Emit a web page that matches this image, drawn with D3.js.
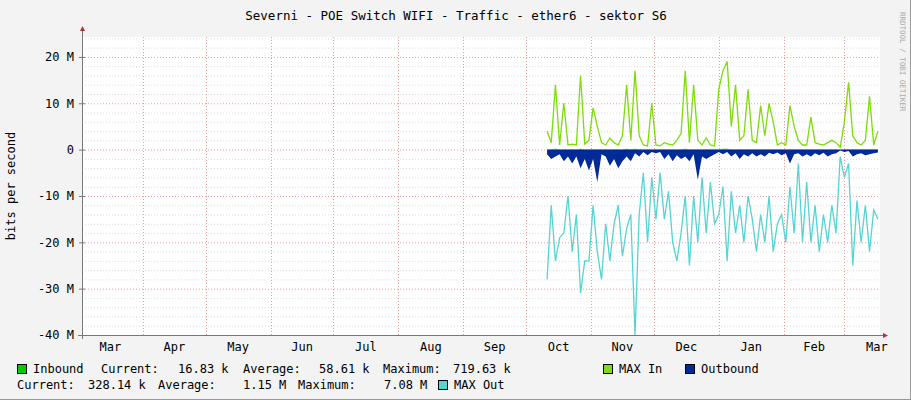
<!DOCTYPE html>
<html><head><meta charset="utf-8">
<script src="https://cdn.jsdelivr.net/npm/d3@7"></script>
<style>body{margin:0;background:#f3f3f3}text{font-family:"DejaVu Sans Mono",monospace;font-size:12px;fill:#000}</style>
</head><body><svg id="c" width="911" height="400"></svg>
<script>
const title = "Severni - POE Switch WIFI - Traffic - ether6 - sektor S6";
const yTicks = [20, 10, 0, -10, -20, -30, -40];
const monthLabels = ["Mar","Apr","May","Jun","Jul","Aug","Sep","Oct","Nov","Dec","Jan","Feb","Mar"];
const startDate = "2023-10-11"; // first sample, 2-day step
const stepDays = 2;
const maxIn = [4,1.5,14,1,10,1,1.2,1,16,1.2,2,9,5,1.5,1,2.5,1.5,1,3,14,2,17,3,1,0.8,10,1,0.8,1.5,1.2,1,2,3.5,17,1.5,14,2,1,2.5,1,0.8,13,17,19,5,14,2,3,13,2,1.5,9.5,3,10,6,1,1.5,1,9.5,5,2,1,1,7,1.5,1.2,1,1.5,2,1.5,0.5,6,14.5,3,1.5,1,2,11.5,1,4];
const inbound = [0.1,0.1,0.2,0.1,0.1,0.1,0.1,0.1,0.2,0.1,0.1,0.1,0.1,0.1,0.1,0.1,0.1,0.1,0.1,0.2,0.1,0.2,0.1,0.1,0.1,0.1,0.1,0.1,0.1,0.1,0.1,0.1,0.1,0.2,0.1,0.1,0.1,0.1,0.1,0.1,0.1,0.1,0.2,0.2,0.1,0.1,0.1,0.1,0.1,0.1,0.1,0.1,0.1,0.1,0.1,0.1,0.1,0.1,0.1,0.1,0.1,0.1,0.1,0.1,0.1,0.1,0.1,0.1,0.1,0.1,0.05,0.1,0.1,0.1,0.1,0.1,0.1,0.1,0.1,0.1];
const outbound = [-1,-2,-1.5,-1,-2.5,-1.5,-3,-1.5,-4,-2,-4.5,-2,-7,-1,-1.5,-3.5,-2,-4,-2.5,-1.5,-2.5,-0.8,-1.5,-0.5,-1.2,-0.5,-0.8,-0.5,-2,-1,-2.5,-1.2,-2,-1.5,-2.5,-1,-6.5,-1.5,-2,-1.5,-1,-0.5,-1,-0.5,-1.5,-0.8,-2,-1,-1.5,-0.8,-1.5,-1,-1.5,-0.7,-1,-0.6,-1.2,-0.8,-3,-1,-0.8,-1.5,-1,-1.5,-0.8,-1.2,-0.7,-1.5,-1,-0.8,-0.2,-0.5,-0.3,-1.5,-1,-0.8,-1.2,-1,-0.8,-0.6];
const maxOut = [-28,-12,-24,-19,-18,-10,-22,-14,-31,-24,-24,-12,-22,-28,-16,-24,-16,-12,-23,-17,-14,-40,-14,-5,-20,-6,-15,-5,-15,-9,-20,-24,-18,-10,-25,-10,-20,-6,-18,-7,-16,-14,-8,-24,-9,-18,-12,-20,-10,-15,-22,-14,-20,-10,-22,-16,-14,-20,-8,-18,-3,-20,-7,-20,-12,-22,-14,-20,-12,-18,-1.5,-6,-3,-25,-11,-20,-12,-22,-13,-15];

const svg = d3.select("#c");
const L=82,R=880,T=37,B=335;
const t0=Date.UTC(2023,2,1), t1=Date.UTC(2024,2,18);
const x=d3.scaleUtc().domain([t0,t1]).range([78,880]);
const y=d3.scaleLinear().domain([-40,24.3]).range([B,T]);
const s0=new Date(startDate+"T00:00:00Z").getTime();
const dt=i=>new Date(s0+i*stepDays*864e5);

svg.append("rect").attr("x",L).attr("y",T).attr("width",R-L).attr("height",B-T).attr("fill","#fff");
const g=svg.append("g");
d3.range(-40,25,2).forEach(v=>{ if(v%10!==0) g.append("line").attr("x1",L).attr("x2",R).attr("y1",y(v)+.5).attr("y2",y(v)+.5).attr("stroke","#dcdcdc").attr("stroke-dasharray","1,2");});
yTicks.forEach(v=>{ g.append("line").attr("x1",L).attr("x2",R).attr("y1",y(v)+.5).attr("y2",y(v)+.5).attr("stroke","#f29b9b").attr("stroke-dasharray","1,2");});
const months=d3.utcMonth.range(Date.UTC(2023,3,1),Date.UTC(2024,2,2));
months.forEach(m=>{const px=Math.round(x(m))+.5; g.append("line").attr("x1",px).attr("x2",px).attr("y1",T).attr("y2",B).attr("stroke","#f29b9b").attr("stroke-dasharray","1,2");});

const ax=d3.axisLeft(y).tickValues(yTicks).tickFormat(v=>v===0?"0":v+" M").tickSize(0).tickPadding(8);
const ya=svg.append("g").attr("transform",`translate(${L},0)`).call(ax);
ya.select(".domain").remove(); ya.selectAll("text").style("font-size","12px");
const mStarts=d3.utcMonth.range(Date.UTC(2023,2,1),Date.UTC(2024,3,1));
mStarts.forEach((m,i)=>{const c=(x(m)+x(d3.utcMonth.offset(m,1)))/2; svg.append("text").attr("x",c).attr("y",351).attr("text-anchor","middle").text(monthLabels[i]);});

svg.append("clipPath").attr("id","cp").append("rect").attr("x",L).attr("y",T).attr("width",R-L).attr("height",B-T);
const d=svg.append("g").attr("clip-path","url(#cp)");
const area=a=>d3.area().x((v,i)=>x(dt(i))).y0(y(0)).y1(v=>y(v))(a);
const line=a=>d3.line().x((v,i)=>x(dt(i))).y(v=>y(v))(a);
d.append("path").attr("d",area(inbound)).attr("fill","#00cc00");
d.append("path").attr("d",line(maxIn)).attr("fill","none").attr("stroke","#7ddc0a").attr("stroke-width",1.3);
d.append("path").attr("d",area(outbound)).attr("fill","#002a97");
d.append("path").attr("d",line(maxOut)).attr("fill","none").attr("stroke","#55d4d4").attr("stroke-width",1.3);

svg.append("line").attr("x1",L+.5).attr("x2",L+.5).attr("y1",B+4).attr("y2",T-6).attr("stroke","#777");
svg.append("line").attr("x1",L-4).attr("x2",R+3).attr("y1",B+.5).attr("y2",B+.5).attr("stroke","#777");
yTicks.forEach(v=>svg.append("line").attr("x1",L-3).attr("x2",L+3).attr("y1",y(v)+.5).attr("y2",y(v)+.5).attr("stroke","#777"));
svg.append("path").attr("d",`M${L-2},${T-6}L${L+3},${T-6}L${L+.5},${T-11}Z`).attr("fill","#a33");
svg.append("path").attr("d",`M${R+3},${B-2}L${R+3},${B+3}L${R+8},${B+.5}Z`).attr("fill","#a33");

svg.append("text").attr("x",456).attr("y",20).attr("text-anchor","middle").text(title).style("font-size","12.5px");
svg.append("text").attr("transform","translate(15,186) rotate(-90)").attr("text-anchor","middle").text("bits per second");
svg.append("text").attr("transform","translate(900,12) rotate(90)").text("RRDTOOL / TOBI OETIKER").style("font-size","7.5px").style("fill","#aaa");
svg.append("line").attr("x1",0).attr("x2",911).attr("y1",399.5).attr("y2",399.5).attr("stroke","#999");
svg.append("line").attr("x1",910.5).attr("x2",910.5).attr("y1",0).attr("y2",400).attr("stroke","#999");

const box=(bx,by,c)=>svg.append("rect").attr("x",bx+.5).attr("y",by+.5).attr("width",9).attr("height",9).attr("fill",c).attr("stroke","#000");
const tx=(tx_,ty,s)=>svg.append("text").attr("x",tx_).attr("y",ty).text(s);
box(17,364,"#00cc00"); tx(33,373,"Inbound"); tx(101,373,"Current:"); tx(178,373,"16.83 k"); tx(243,373,"Average:"); tx(319,373,"58.61 k"); tx(383,373,"Maximum:"); tx(453,373,"719.63 k");
box(603,364,"#7ddc0a"); tx(619,373,"MAX In"); box(685,364,"#002a97"); tx(701,373,"Outbound");
tx(17,389,"Current:"); tx(88,389,"328.14 k"); tx(158,389,"Average:"); tx(243,389,"1.15 M"); tx(298,389,"Maximum:"); tx(384,389,"7.08 M");
box(438,380,"#55d4d4"); tx(454,389,"MAX Out");
</script></body></html>
